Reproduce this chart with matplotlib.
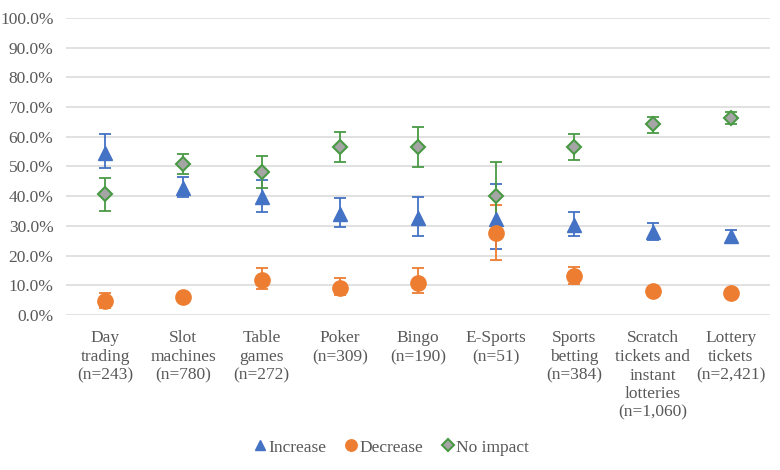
import numpy as np
import matplotlib
matplotlib.use('Agg')
import matplotlib.pyplot as plt
from matplotlib.ticker import FuncFormatter

plt.rcParams['font.family'] = ['Liberation Serif', 'DejaVu Serif']

categories = ['Day\ntrading\n(n=243)', 'Slot\nmachines\n(n=780)', 'Table\ngames\n(n=272)',
              'Poker\n(n=309)', 'Bingo\n(n=190)', 'E-Sports\n(n=51)',
              'Sports\nbetting\n(n=384)', 'Scratch\ntickets and\ninstant\nlotteries\n(n=1,060)',
              'Lottery\ntickets\n(n=2,421)']

# percent values, with lower / upper bounds of the error bars
increase = [54.7, 42.8, 39.8, 34.0, 32.5, 32.2, 30.3, 28.1, 26.6]
increase_lo = [49.4, 39.8, 34.8, 29.7, 26.7, 22.2, 26.7, 25.3, 24.5]
increase_hi = [60.9, 46.5, 45.5, 39.3, 39.6, 44.1, 34.6, 30.9, 28.6]

decrease = [4.7, 6.2, 11.8, 9.2, 10.9, 27.6, 13.1, 8.1, 7.3]
decrease_lo = [2.4, 4.9, 8.6, 6.7, 7.3, 18.5, 10.4, 7.2, 6.6]
decrease_hi = [7.4, 7.5, 15.8, 12.3, 15.7, 36.9, 16.0, 9.0, 8.0]

no_impact = [40.6, 51.0, 48.3, 56.4, 56.7, 40.1, 56.7, 64.2, 66.4]
no_impact_lo = [35.0, 47.5, 42.6, 51.5, 49.9, 28.6, 52.3, 61.4, 64.3]
no_impact_hi = [46.2, 54.2, 53.6, 61.5, 63.4, 51.6, 60.9, 66.8, 68.2]

blue = '#4472C4'
orange = '#ED7D31'
green = '#4A9A45'
gray = '#A5A5A5'
txt = '#595959'

fig = plt.figure(figsize=(7.8, 4.7), dpi=100)
ax = fig.add_axes([0.0846, 0.3298, 0.9024, 0.6319])

x = np.arange(len(categories))


def err(vals, lo, hi):
    vals = np.array(vals)
    return [vals - np.array(lo), np.array(hi) - vals]


series = [
    (increase, increase_lo, increase_hi, blue),
    (decrease, decrease_lo, decrease_hi, orange),
    (no_impact, no_impact_lo, no_impact_hi, green),
]
for vals, lo, hi, c in series:
    ax.errorbar(x, vals, yerr=err(vals, lo, hi), fmt='none', ecolor=c,
                elinewidth=1.3, capsize=4.3, capthick=1.3, zorder=3, clip_on=False)

ax.plot(x, no_impact, linestyle='none', marker='D', markersize=7.5, markerfacecolor=gray,
        markeredgecolor=green, markeredgewidth=1.5, label='No impact', zorder=4)
ax.plot(x, increase, linestyle='none', marker='^', markersize=10, color=blue,
        label='Increase', zorder=5)
ax.plot(x, decrease, linestyle='none', marker='o', markersize=11, color=orange,
        label='Decrease', zorder=6)

ax.set_xlim(-0.5, len(categories) - 0.5)
ax.set_ylim(0, 100)
ax.set_yticks(np.arange(0, 101, 10))
ax.yaxis.set_major_formatter(FuncFormatter(lambda v, p: f'{v:.1f}%'))
ax.set_xticks(x)
ax.set_xticklabels(categories, fontsize=12.5, color=txt, linespacing=1.22)
ax.tick_params(axis='y', labelsize=12.5, labelcolor=txt, length=0, pad=9)
ax.tick_params(axis='x', length=0, pad=11)
ax.grid(axis='y', color='#D9D9D9', linewidth=1.1)
ax.set_axisbelow(True)
for s in ax.spines.values():
    s.set_visible(False)

h, l = ax.get_legend_handles_labels()
order = [1, 2, 0]
fig.legend([h[i] for i in order], [l[i] for i in order], loc='center',
           bbox_to_anchor=(0.502, 0.048), ncol=3, frameon=False, fontsize=12.5,
           labelcolor=txt, markerscale=0.75, handlelength=0.7, handletextpad=0.1,
           columnspacing=1.1)

fig.savefig('out.png', dpi=100)
